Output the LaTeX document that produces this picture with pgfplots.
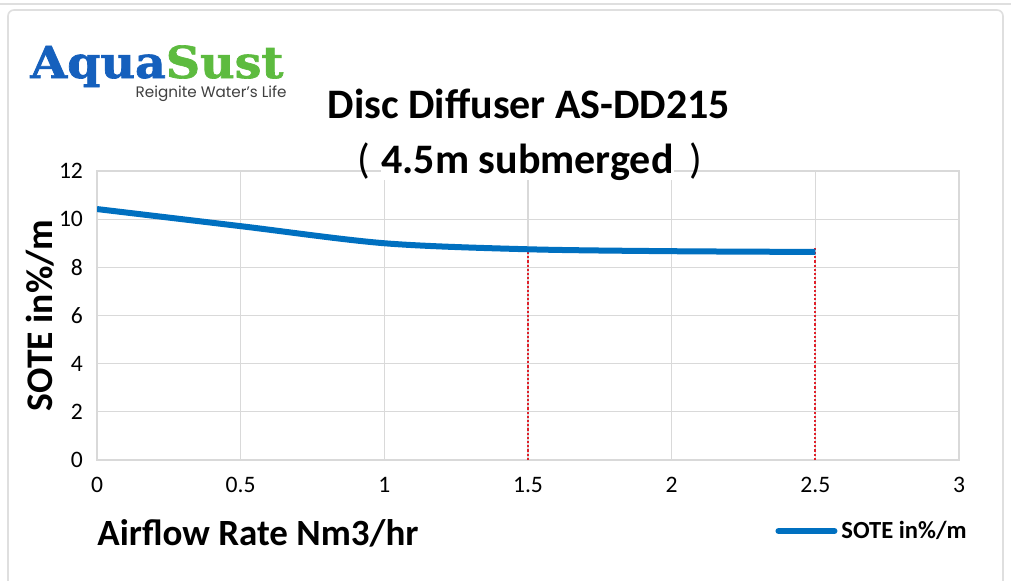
\documentclass[border=0pt]{standalone}
\usepackage{fontspec}
\setmainfont{Carlito}
\newfontfamily\logofont[FakeBold=1.5]{DejaVu Serif Bold}
\newfontfamily\tagfont{Poppins}
\usepackage{pgfplots}
\pgfplotsset{compat=1.18}
\definecolor{lineblue}{HTML}{0070C0}
\definecolor{gridgray}{HTML}{D9D9D9}
\definecolor{logoblue}{HTML}{1560BD}
\definecolor{logogreen}{HTML}{5DBB3F}
\definecolor{dotred}{HTML}{E0202A}
\begin{document}
\begin{tikzpicture}
\useasboundingbox (0,0) rectangle (505.5pt,290pt);
\fill[white] (0,0) rectangle (505.5pt,290pt);
\draw[gray!25, line width=0.8pt] (0,288pt) -- (505.5pt,288pt);
\draw[gray!25, line width=0.8pt, rounded corners=3pt] (4pt,-5pt) -- (4pt,285pt) -- (501.5pt,285pt) -- (501.5pt,-5pt);
% logo
\node[anchor=base west, inner sep=0pt, font=\logofont\fontsize{22}{24}\selectfont] at (15pt,251pt) {\scalebox{1.08}[1]{\textcolor{logoblue}{Aqua}\textcolor{logogreen}{Sust}}};
\node[anchor=base east, inner sep=0pt, font=\tagfont\fontsize{7.6}{8}\selectfont, text=black!75] at (143.5pt,241.5pt) {Reignite Water’s Life};
\begin{axis}[
  at={(48.5pt,60pt)}, anchor=south west,
  scale only axis, width=431pt, height=144.5pt,
  xmin=0, xmax=3, ymin=0, ymax=12,
  xtick={0,0.5,1,1.5,2,2.5,3},
  ytick={0,2,4,6,8,10,12},
  grid=major,
  grid style={draw=gridgray, line width=0.6pt},
  axis line style={draw=gridgray, line width=0.6pt},
  major tick length=0pt,
  /pgf/number format/assume math mode=true,
  tick label style={font=\fontsize{11.8}{13}\selectfont},
  xticklabel style={yshift=-5pt},
  yticklabel style={xshift=-3.5pt},
  xlabel={Airflow Rate Nm3/hr},
  xlabel style={at={(axis description cs:0,-0.2526)}, anchor=west, inner sep=0pt, font=\bfseries\fontsize{18.5}{22}\selectfont},
  ylabel={SOTE in\%/m},
  ylabel style={at={(axis description cs:-0.0661,0.5)}, anchor=center, font=\bfseries\fontsize{18.8}{22}\selectfont},
  legend style={at={(0.7866,-0.2457)}, anchor=west, draw=none, fill=none, font=\bfseries\fontsize{12.3}{14}\selectfont, inner sep=0pt},
  legend image code/.code={\draw[#1, line width=3pt, line cap=round] (0pt,0pt) -- (28pt,0pt);},
]
\addplot[dotred, densely dotted, line width=1.1pt, forget plot] coordinates {(1.5,0) (1.5,8.75)};
\addplot[dotred, densely dotted, line width=1.1pt, forget plot] coordinates {(2.5,0) (2.5,8.85)};
\addplot[lineblue, line width=3pt, smooth, tension=0.5] coordinates {
(0,10.42) (0.5,9.71) (1,9.0) (1.5,8.75) (2,8.67) (2.5,8.64)};
\addlegendentry{SOTE in\%/m}
\end{axis}
% title (drawn over the plot area)
\node[anchor=base, inner sep=0pt, font=\bfseries\fontsize{21}{24}\selectfont] at (264.5pt,231pt) {Disc Diffuser AS-DD215};
\node[anchor=base west, inner sep=0pt, fill=white, font=\bfseries\fontsize{21}{24}\selectfont] at (190.5pt,203.5pt) {4.5m submerged};
\node[anchor=base east, inner sep=0pt, font=\fontsize{21}{24}\selectfont] at (185.5pt,203.5pt) {(};
\node[anchor=base west, inner sep=0pt, font=\fontsize{21}{24}\selectfont] at (344.5pt,203.5pt) {)};
\end{tikzpicture}
\end{document}
